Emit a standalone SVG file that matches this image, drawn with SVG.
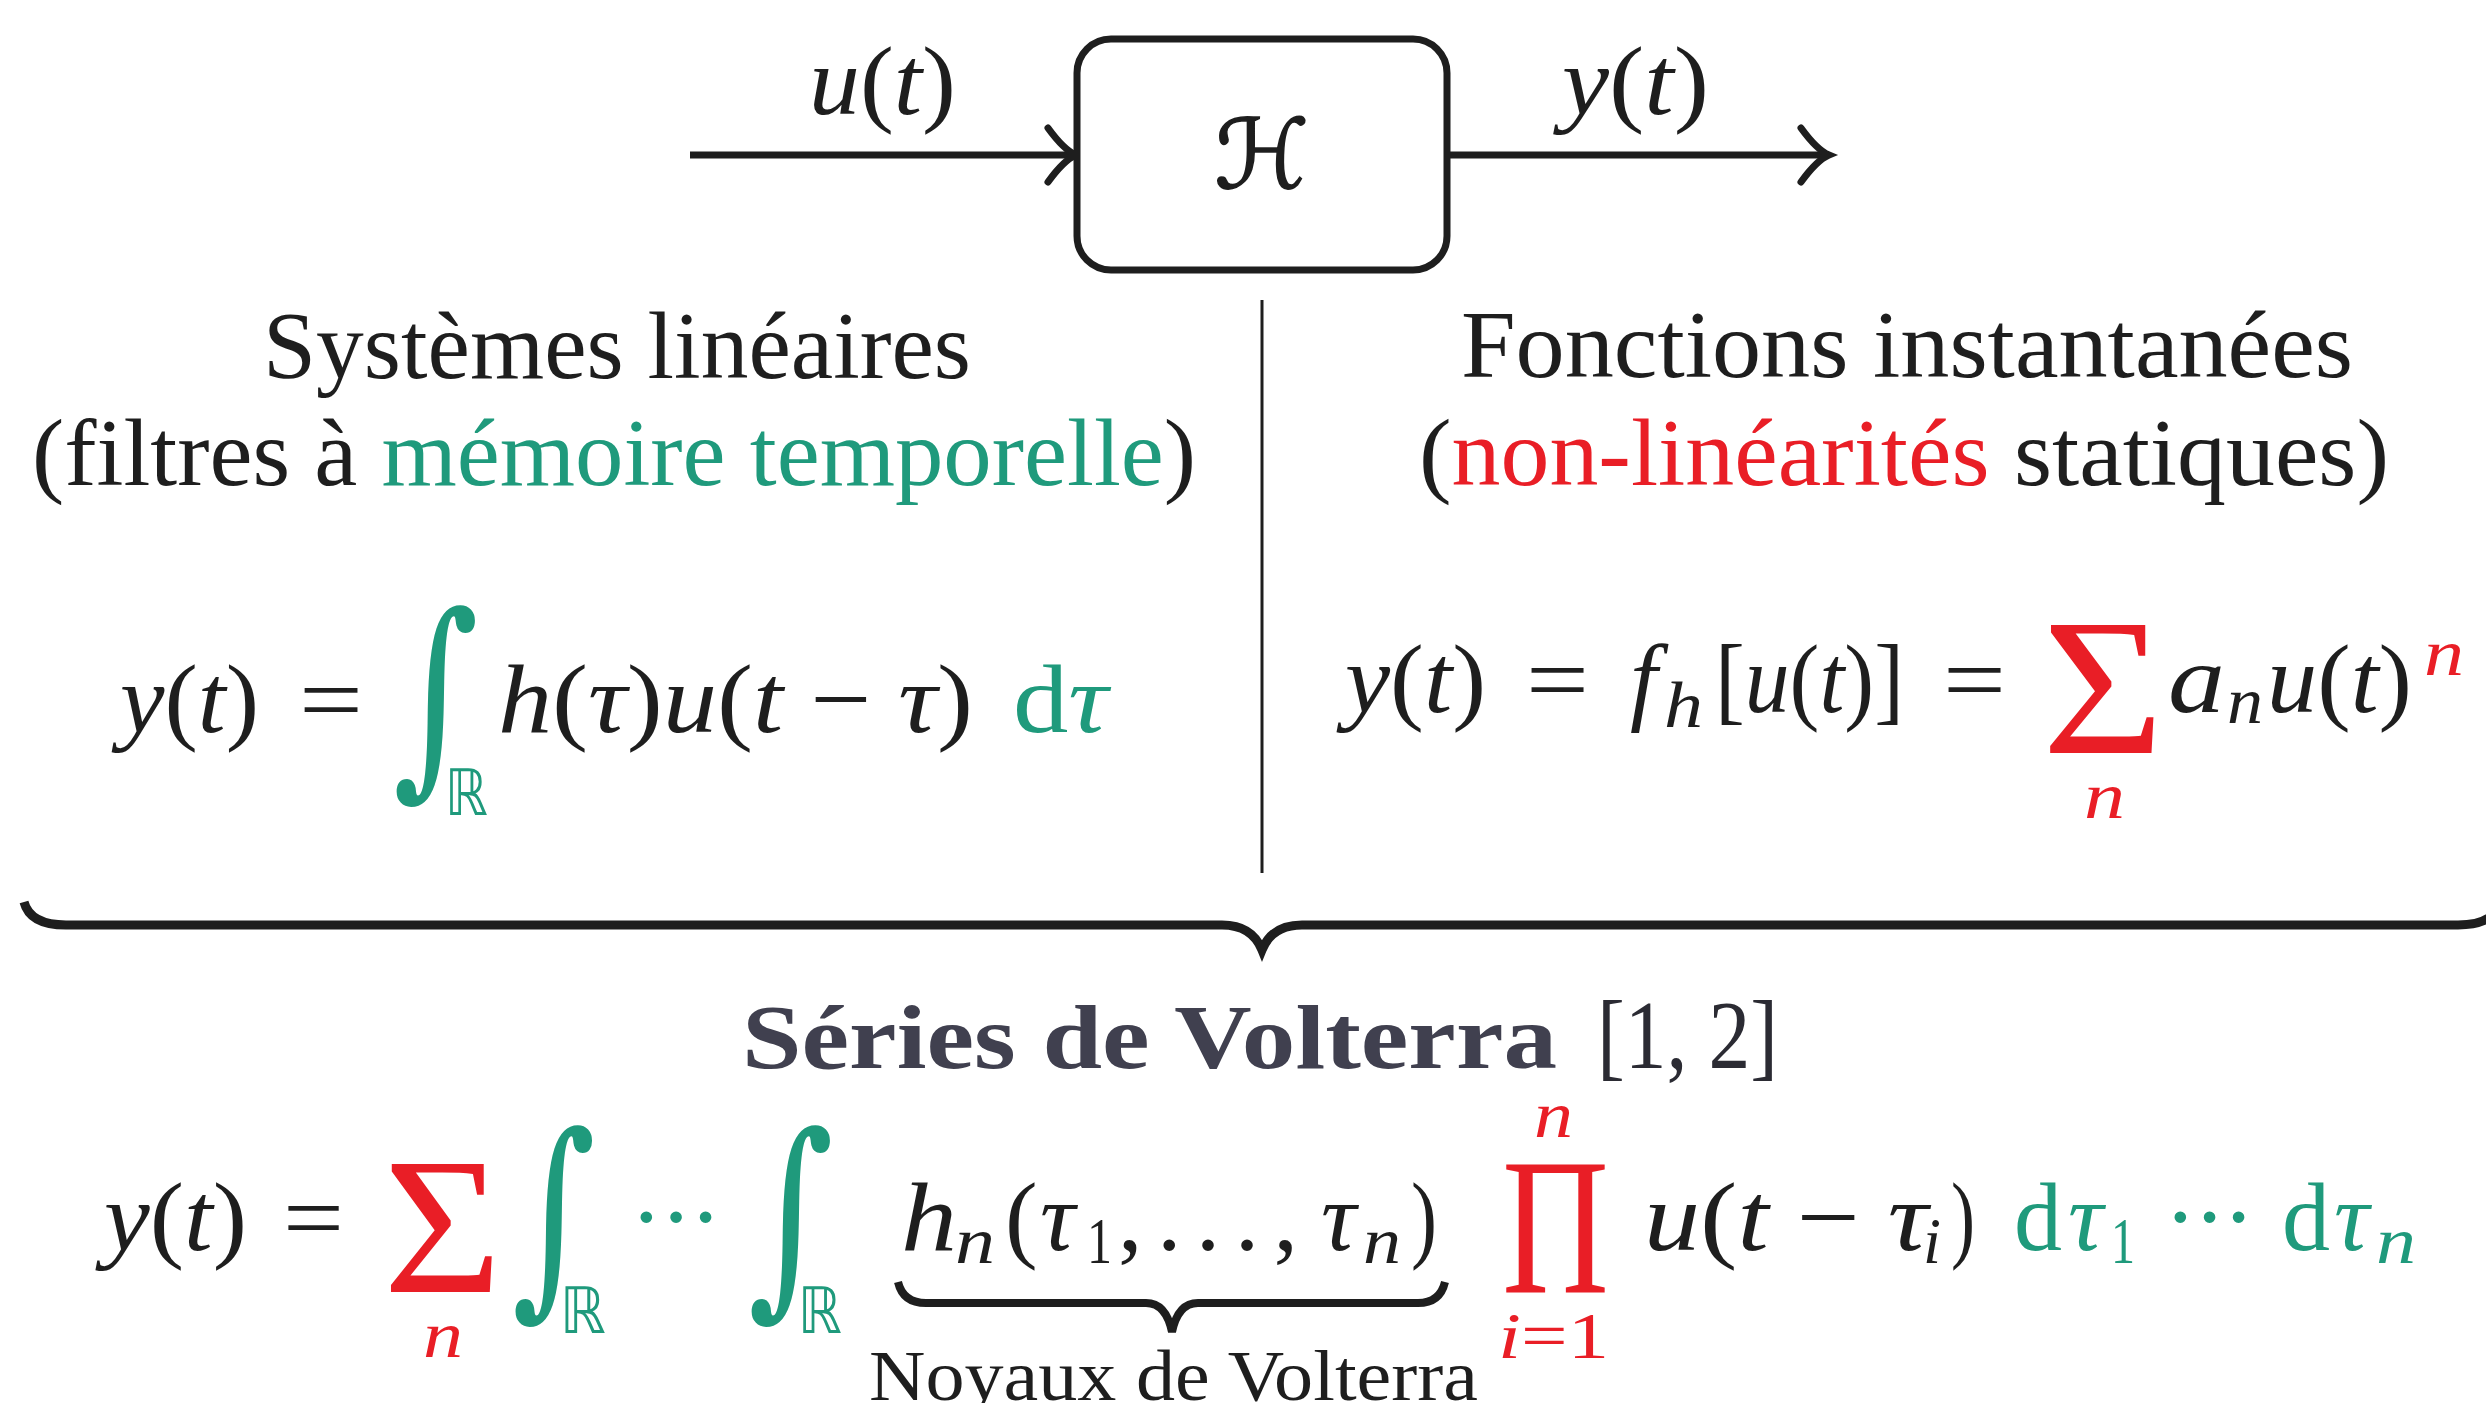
<svg xmlns="http://www.w3.org/2000/svg" width="2486" height="1403" viewBox="0 0 2486 1403">
<defs>
<style>
text { font-family: "Liberation Serif", "DejaVu Serif", serif; fill: #1e1e1e; font-size: 98px; }
.h { font-size: 96px; }
.i { font-style: italic; }
.s { font-size: 66px; }
.g { fill: #1f9a7c; }
.r { fill: #e91e26; }
.big { font-size: 194px; }
.int { font-family: "DejaVu Serif", serif; font-size: 215px; }
.bb { font-family: "DejaVu Sans", sans-serif; font-size: 64px; }
.bold { font-weight: bold; fill: #40404f; font-size: 92px; }
.line { stroke: #1e1e1e; stroke-width: 7; fill: none; }
.brace { stroke: #1e1e1e; stroke-width: 9; fill: none; stroke-linecap: butt; }
</style>
</defs>
<rect width="2486" height="1403" fill="#ffffff"/>

<g id="connectors">
  <path class="line" d="M 690,155 L 1074,155"/>
  <path class="line" stroke-linecap="round" d="M 1048,128 Q 1064,150 1076,155 Q 1064,160 1048,182"/>
  <path class="line" d="M 1448,155 L 1826,155"/>
  <path class="line" stroke-linecap="round" d="M 1801,128 Q 1817,150 1829,155 Q 1817,160 1801,182"/>
  <text x="809" y="114" textLength="147" lengthAdjust="spacingAndGlyphs"><tspan class="i">u</tspan>(<tspan class="i">t</tspan>)</text>
  <text x="1562" y="114" textLength="147" lengthAdjust="spacingAndGlyphs"><tspan class="i">y</tspan>(<tspan class="i">t</tspan>)</text>
</g>

<g id="system">
  <rect x="1077" y="39" width="370" height="231" rx="34" ry="34" fill="#ffffff" stroke="#1e1e1e" stroke-width="7"/>
  <text x="1262" y="188" text-anchor="middle" style="font-family:'DejaVu Serif','DejaVu Sans',serif;font-size:96px;stroke:#1e1e1e;stroke-width:1.5">ℋ</text>
</g>

<g id="divider">
  <line x1="1262" y1="300" x2="1262" y2="873" stroke="#1e1e1e" stroke-width="3"/>
</g>

<g id="linear">
  <text class="h" x="263" y="378" textLength="708" lengthAdjust="spacingAndGlyphs">Systèmes linéaires</text>
  <text class="h" x="32" y="485" textLength="1164" lengthAdjust="spacingAndGlyphs">(filtres à <tspan class="g">mémoire temporelle</tspan>)</text>
  <text x="120" y="732" textLength="139" lengthAdjust="spacingAndGlyphs"><tspan class="i">y</tspan>(<tspan class="i">t</tspan>)</text>
  <text x="299" y="732" textLength="64" lengthAdjust="spacingAndGlyphs">=</text>
  <text class="int g" x="393" y="768" textLength="86" lengthAdjust="spacingAndGlyphs">∫</text>
  <text class="bb g" x="445" y="815" textLength="43" lengthAdjust="spacingAndGlyphs">ℝ</text>
  <text x="498" y="732" textLength="475" lengthAdjust="spacingAndGlyphs"><tspan class="i">h</tspan>(<tspan class="i">τ</tspan>)<tspan class="i">u</tspan>(<tspan class="i">t</tspan> − <tspan class="i">τ</tspan>)</text>
  <text class="g" x="1013" y="732" textLength="95" lengthAdjust="spacingAndGlyphs">d<tspan class="i g">τ</tspan></text>
</g>

<g id="static">
  <text class="h" x="1461" y="377" textLength="892" lengthAdjust="spacingAndGlyphs">Fonctions instantanées</text>
  <text class="h" x="1419" y="485" textLength="970" lengthAdjust="spacingAndGlyphs">(<tspan class="r">non-linéarités</tspan> statiques)</text>
  <text x="1345" y="712" textLength="141" lengthAdjust="spacingAndGlyphs"><tspan class="i">y</tspan>(<tspan class="i">t</tspan>)</text>
  <text x="1526" y="712" textLength="63" lengthAdjust="spacingAndGlyphs">=</text>
  <text class="i" x="1630" y="712">f</text>
  <text class="i s" x="1664" y="727" textLength="39" lengthAdjust="spacingAndGlyphs">h</text>
  <text x="1715" y="712" textLength="189" lengthAdjust="spacingAndGlyphs">[<tspan class="i">u</tspan>(<tspan class="i">t</tspan>)]</text>
  <text x="1943" y="712" textLength="63" lengthAdjust="spacingAndGlyphs">=</text>
  <text class="big r" x="2042" y="753" textLength="122" lengthAdjust="spacingAndGlyphs">Σ</text>
  <text class="i s r" x="2084" y="818" textLength="41" lengthAdjust="spacingAndGlyphs">n</text>
  <text class="i" x="2168" y="712" textLength="57" lengthAdjust="spacingAndGlyphs">a</text>
  <text class="i s" x="2227" y="723" textLength="36" lengthAdjust="spacingAndGlyphs">n</text>
  <text x="2267" y="712" textLength="145" lengthAdjust="spacingAndGlyphs"><tspan class="i">u</tspan>(<tspan class="i">t</tspan>)</text>
  <text class="i s r" x="2424" y="675" textLength="40" lengthAdjust="spacingAndGlyphs">n</text>
</g>

<g id="overbrace">
  <path class="brace" d="M 24,902 Q 30,925 66,925 L 1222,925 Q 1252,925 1262,950 Q 1272,925 1302,925 L 2458,925 Q 2494,925 2500,902"/>
</g>

<g id="volterra">
  <text class="bold" x="742" y="1068" textLength="815" lengthAdjust="spacingAndGlyphs">Séries de Volterra</text>
  <text x="1597" y="1068" textLength="181" lengthAdjust="spacingAndGlyphs" style="fill:#2b2b33">[1, 2]</text>

  <text x="104" y="1250" textLength="143" lengthAdjust="spacingAndGlyphs"><tspan class="i">y</tspan>(<tspan class="i">t</tspan>)</text>
  <text x="283" y="1250" textLength="61" lengthAdjust="spacingAndGlyphs">=</text>
  <text class="big r" x="383" y="1292" textLength="119" lengthAdjust="spacingAndGlyphs">Σ</text>
  <text class="i s r" x="423" y="1357" textLength="40" lengthAdjust="spacingAndGlyphs">n</text>
  <text class="int g" x="512" y="1288" textLength="84" lengthAdjust="spacingAndGlyphs">∫</text>
  <text class="bb g" x="560" y="1333" textLength="46" lengthAdjust="spacingAndGlyphs">ℝ</text>
  <text class="g" x="630" y="1250" textLength="92" lengthAdjust="spacing">· · ·</text>
  <text class="int g" x="748" y="1288" textLength="86" lengthAdjust="spacingAndGlyphs">∫</text>
  <text class="bb g" x="798" y="1333" textLength="44" lengthAdjust="spacingAndGlyphs">ℝ</text>

  <text class="i" x="901" y="1250" textLength="56" lengthAdjust="spacingAndGlyphs">h</text>
  <text class="i s" x="955" y="1263" textLength="40" lengthAdjust="spacingAndGlyphs">n</text>
  <text x="1005" y="1250">(</text>
  <text class="i" x="1040" y="1250">τ</text>
  <text class="s" x="1087" y="1263" textLength="25" lengthAdjust="spacingAndGlyphs">1</text>
  <text x="1118" y="1250" textLength="180" lengthAdjust="spacing">, . . . ,</text>
  <text class="i" x="1321" y="1250">τ</text>
  <text class="i s" x="1363" y="1263" textLength="38" lengthAdjust="spacingAndGlyphs">n</text>
  <text x="1411" y="1250" textLength="26" lengthAdjust="spacingAndGlyphs">)</text>
  <path class="brace" style="stroke-width:8" d="M 898,1282 Q 903,1303 926,1303 L 1146,1303 Q 1166,1303 1172,1332 Q 1178,1303 1198,1303 L 1418,1303 Q 1440,1303 1445,1282"/>
  <text x="869" y="1400" textLength="609" lengthAdjust="spacingAndGlyphs" style="font-size:72px">Noyaux de Volterra</text>

  <text class="big r" x="1502" y="1292" textLength="107" lengthAdjust="spacingAndGlyphs">Π</text>
  <text class="i s r" x="1534" y="1137" textLength="39" lengthAdjust="spacingAndGlyphs">n</text>
  <text class="s r" x="1498" y="1358" textLength="111" lengthAdjust="spacingAndGlyphs"><tspan class="i r">i</tspan>=1</text>

  <text x="1644" y="1250" textLength="284" lengthAdjust="spacingAndGlyphs"><tspan class="i">u</tspan>(<tspan class="i">t</tspan> − <tspan class="i">τ</tspan></text>
  <text class="i s" x="1923" y="1263" textLength="18" lengthAdjust="spacingAndGlyphs">i</text>
  <text x="1951" y="1250" textLength="24" lengthAdjust="spacingAndGlyphs">)</text>

  <text class="g" x="2014" y="1250" textLength="48" lengthAdjust="spacingAndGlyphs">d</text>
  <text class="i g" x="2068" y="1250">τ</text>
  <text class="s g" x="2111" y="1263" textLength="24" lengthAdjust="spacingAndGlyphs">1</text>
  <text class="g" x="2164" y="1250" textLength="91" lengthAdjust="spacing">· · ·</text>
  <text class="g" x="2282" y="1250" textLength="48" lengthAdjust="spacingAndGlyphs">d</text>
  <text class="i g" x="2334" y="1250">τ</text>
  <text class="i s g" x="2376" y="1263" textLength="40" lengthAdjust="spacingAndGlyphs">n</text>
</g>
</svg>
